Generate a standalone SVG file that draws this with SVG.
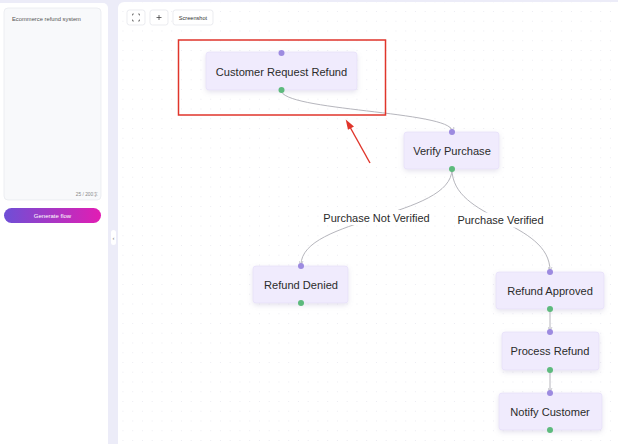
<svg xmlns="http://www.w3.org/2000/svg" width="618" height="444" viewBox="0 0 618 444">
<defs>
<style>
.ui{font-family:"Liberation Sans","Noto Sans CJK SC",sans-serif;}
.node rect.box{fill:#f0ebfd;stroke:#e4dcf8;stroke-width:0.6;filter:url(#sh);}
.node text{font-family:"Liberation Sans",Arial,sans-serif;font-size:11.1px;fill:#2b2b2b;text-anchor:middle;dominant-baseline:central;}
.hin{fill:#9d8be0;}
.hout{fill:#5dba7d;}
.edge{fill:none;stroke:#b6b6bd;stroke-width:1;}
.lbl{font-family:"Liberation Sans",Arial,sans-serif;font-size:11px;fill:#2b2b2b;text-anchor:middle;dominant-baseline:central;}
.btn{fill:#ffffff;stroke:#e3e4ea;stroke-width:0.7;}
</style>
<pattern id="dots" x="541.7" y="11" width="9.75" height="9.75" patternUnits="userSpaceOnUse">
<circle cx="0.5" cy="0.5" r="0.5" fill="#e6e6ee"/>
</pattern>
<linearGradient id="grad" x1="0" y1="0" x2="1" y2="0">
<stop offset="0" stop-color="#6e4fd6"/>
<stop offset="1" stop-color="#e21db3"/>
</linearGradient>
<filter id="sh" x="-20%" y="-30%" width="140%" height="170%">
<feDropShadow dx="0" dy="2" stdDeviation="2.5" flood-color="#8a80b0" flood-opacity="0.22"/>
</filter>
<marker id="arr" viewBox="0 0 10 10" refX="9" refY="5" markerWidth="5" markerHeight="5" orient="auto">
<path d="M1,1 L9,5 L1,9" fill="none" stroke="#b6b6bd" stroke-width="1.5"/>
</marker>
</defs>
<rect width="618" height="444" fill="#ececf8"/>
<g id="sidebar">
<path d="M0,3 H103 a5,5 0 0 1 5,5 V444 H0 Z" fill="#ffffff"/>
<rect x="4" y="8" width="97" height="192" rx="4" fill="#f8f9fb" stroke="#e6e8ee" stroke-width="0.7"/>
<text class="ui" x="12" y="21" font-size="5.8" fill="#555">Ecommerce refund system</text>
<text class="ui" x="98" y="196" font-size="4.8" fill="#888" text-anchor="end">25 / 200<tspan font-family="'Noto Sans CJK SC',sans-serif">字</tspan></text>
<rect x="4" y="208" width="97" height="15" rx="7.5" fill="url(#grad)"/>
<text class="ui" x="52.5" y="217.8" font-size="6" fill="#ffffff" text-anchor="middle">Generate flow</text>
</g>
<g id="collapse">
<rect x="111" y="230" width="5" height="15" rx="2.5" fill="#ffffff"/>
<text class="ui" x="113.5" y="239.5" font-size="6" fill="#777" text-anchor="middle">‹</text>
</g>
<g id="canvas">
<path d="M124,2 H618 V444 H118 V8 a6,6 0 0 1 6,-6 Z" fill="#ffffff"/>
<path d="M124,2 H618 V444 H118 V8 a6,6 0 0 1 6,-6 Z" fill="url(#dots)"/>
</g>
<g id="toolbar">
<rect class="btn" x="127" y="10" width="18" height="15" rx="2.5"/>
<path d="M132.5,15.5 v-1.5 h1.5 M139.5,15.5 v-1.5 h-1.5 M132.5,19.5 v1.5 h1.5 M139.5,19.5 v1.5 h-1.5" fill="none" stroke="#555" stroke-width="0.7"/>
<rect class="btn" x="150" y="10" width="18" height="15" rx="2.5"/>
<path d="M159,15 v5 M156.5,17.5 h5" stroke="#444" stroke-width="0.8"/>
<rect class="btn" x="173" y="10" width="40" height="15" rx="2.5"/>
<text class="ui" x="193" y="19.5" font-size="5.6" fill="#333" text-anchor="middle">Screenshot</text>
</g>
<g id="connectors">
<path class="edge" d="M281,90 C281,111 452,111 452,131" marker-end="url(#arr)"/>
<path class="edge" d="M452,169 C452,217.5 301,217.5 301,265" marker-end="url(#arr)"/>
<path class="edge" d="M452,169 C452,220.5 550,220.5 550,271" marker-end="url(#arr)"/>
<path class="edge" d="M550,309 L550,331" marker-end="url(#arr)"/>
<path class="edge" d="M550,370 L550,392" marker-end="url(#arr)"/>
<rect x="321" y="210" width="111" height="15" fill="#ffffff"/>
<text class="lbl" x="376.5" y="217.5">Purchase Not Verified</text>
<rect x="456" y="212.5" width="89" height="15" fill="#ffffff"/>
<text class="lbl" x="500.5" y="220">Purchase Verified</text>
</g>
<g id="n-customer-request-refund" class="node">
<rect class="box" x="206" y="52" width="151" height="38" rx="3"/>
<text x="281.5" y="71.5">Customer Request Refund</text>
<circle class="hin" cx="281.5" cy="53" r="3"/>
<circle class="hout" cx="281.5" cy="90" r="3"/>
</g>
<g id="n-verify-purchase" class="node">
<rect class="box" x="404" y="132" width="95" height="37" rx="3"/>
<text x="452" y="151">Verify Purchase</text>
<circle class="hin" cx="452" cy="132" r="3"/>
<circle class="hout" cx="452" cy="169" r="3"/>
</g>
<g id="n-refund-denied" class="node">
<rect class="box" x="253" y="266" width="95" height="37" rx="3"/>
<text x="301" y="285">Refund Denied</text>
<circle class="hin" cx="301" cy="266" r="3"/>
<circle class="hout" cx="301" cy="303" r="3"/>
</g>
<g id="n-refund-approved" class="node">
<rect class="box" x="496" y="272" width="108" height="37" rx="3"/>
<text x="550" y="290.5">Refund Approved</text>
<circle class="hin" cx="550" cy="272" r="3"/>
<circle class="hout" cx="550" cy="309" r="3"/>
</g>
<g id="n-process-refund" class="node">
<rect class="box" x="502" y="332" width="97" height="38" rx="3"/>
<text x="550" y="351">Process Refund</text>
<circle class="hin" cx="550" cy="332" r="3"/>
<circle class="hout" cx="550" cy="370" r="3"/>
</g>
<g id="n-notify-customer" class="node">
<rect class="box" x="499" y="393" width="103" height="37" rx="3"/>
<text x="550" y="411.5">Notify Customer</text>
<circle class="hin" cx="550" cy="393" r="3"/>
<circle class="hout" cx="550" cy="430" r="3"/>
</g>
<g id="annotation">
<rect x="178.5" y="40" width="207" height="75" fill="none" stroke="#e0352b" stroke-width="1.5"/>
<path d="M370,163 L350.5,128" stroke="#e0352b" stroke-width="1.4" fill="none"/>
<path d="M345.7,119.5 L354,126.5 L348,129.8 Z" fill="#e0352b"/>
</g>
</svg>
